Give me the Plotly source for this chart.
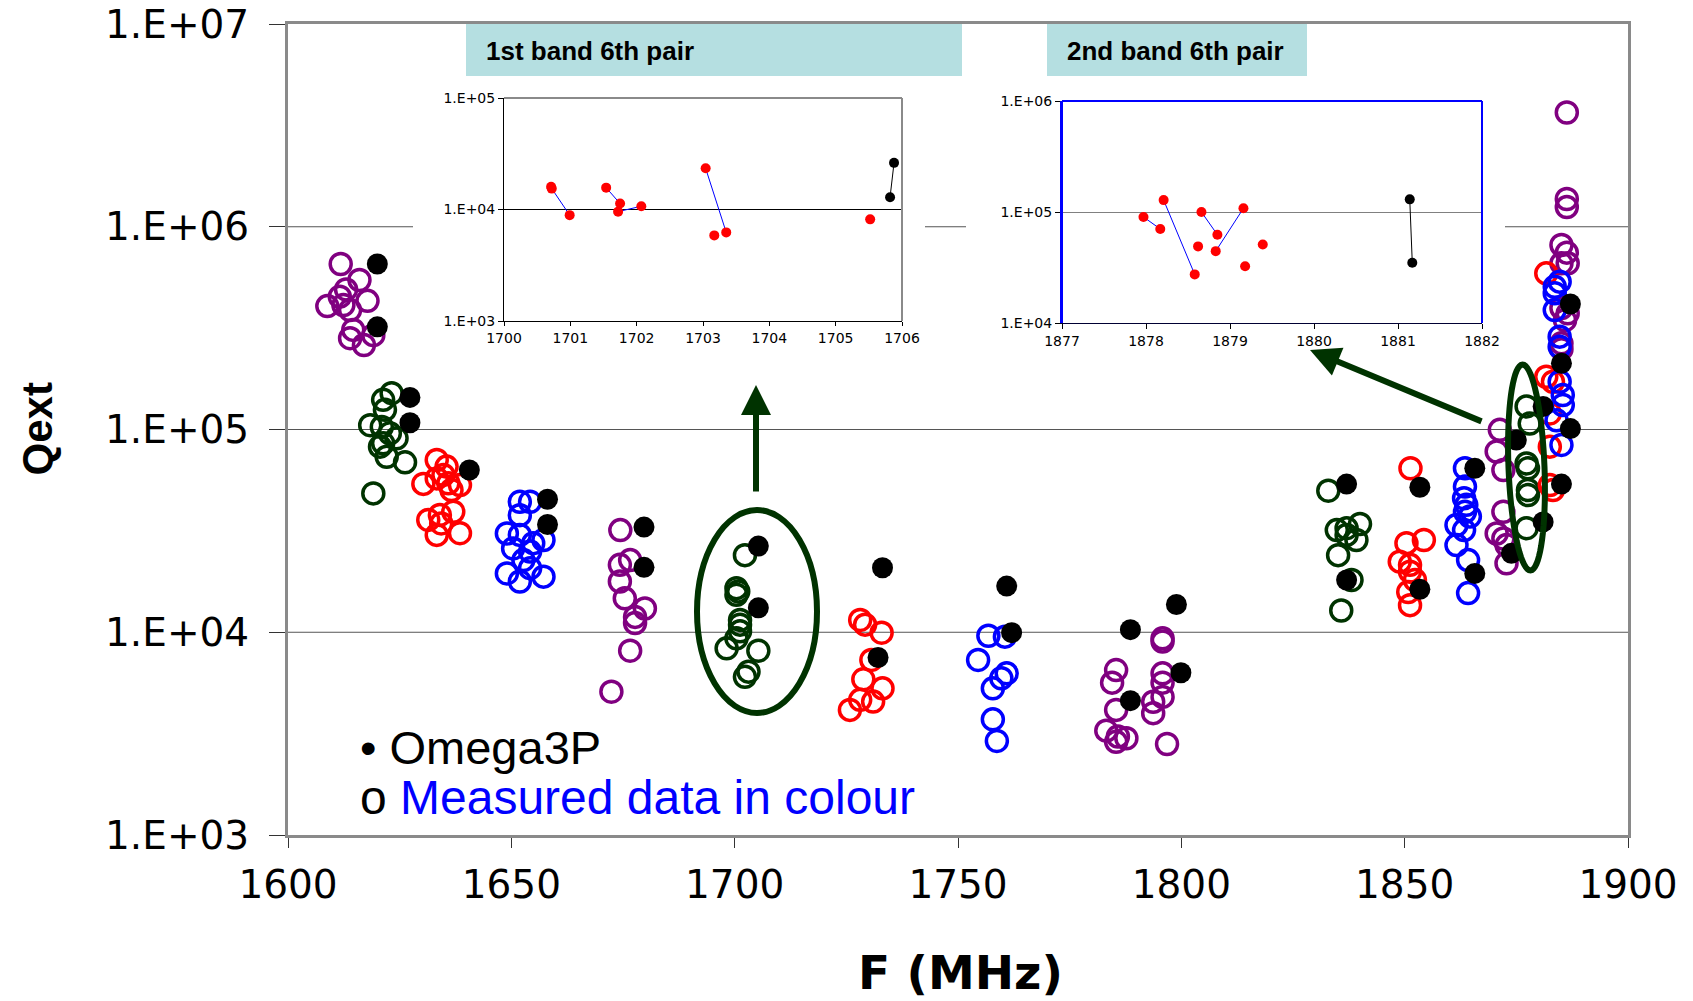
import numpy as np
import plotly.graph_objects as go

# ---------------- data ----------------
purple_f = [1611.8, 1616.0, 1613.0, 1611.6, 1608.8, 1617.8, 1613.9, 1612.4, 1614.6, 1619.1, 1613.9, 1617.0,
            1674.4, 1676.6, 1674.3, 1674.3, 1675.4, 1679.9, 1677.7, 1677.7, 1676.6, 1672.4,
            1795.8, 1795.8, 1785.4, 1784.5, 1795.8, 1795.8, 1795.8, 1793.7, 1793.7, 1785.4, 1783.2, 1785.8, 1787.7, 1785.4, 1796.8,
            1871.3, 1870.6, 1872.1, 1872.1, 1870.6, 1872.1, 1872.8, 1872.8,
            1886.3, 1886.3, 1886.3, 1885.1, 1886.3, 1885.1, 1886.5, 1885.1, 1885.9, 1886.5, 1885.1, 1885.1]
purple_q = [655000, 546000, 491000, 452000, 406000, 431000, 388000, 411000, 310000, 292000, 282000, 261000,
            31900, 22700, 21500, 17800, 14700, 13100, 11900, 11100, 8110, 5090,
            9330, 9000, 6510, 5640, 6270, 5640, 4800, 4540, 3990, 4140, 3270, 3060, 3000, 2880, 2810,
            99600, 77900, 63100, 39300, 30700, 29000, 26900, 21900,
            3660000, 1370000, 1250000, 813000, 745000, 660000, 660000, 397000, 346000, 374000, 266000, 249000]

green_f = [1623.2, 1621.3, 1621.7, 1618.4, 1621.0, 1622.8, 1624.3, 1621.3, 1620.6, 1622.1, 1626.2, 1619.1,
           1702.3, 1700.4, 1700.8, 1700.4, 1701.2, 1701.2, 1701.2, 1700.4, 1698.2, 1705.3, 1703.1, 1702.3,
           1832.9, 1834.8, 1837.0, 1840.0, 1839.2, 1837.0, 1835.1, 1838.1, 1835.8,
           1877.3, 1878.0, 1877.3, 1877.6, 1877.6, 1877.6, 1877.3]
green_q = [151000, 140000, 125000, 105000, 103000, 95800, 90500, 85500, 82300, 73400, 68900, 48400,
           24000, 16500, 15900, 15300, 11500, 10900, 10100, 9330, 8330, 8110, 6390, 6030,
           49900, 31900, 32600, 34200, 28500, 30200, 24000, 18100, 12800,
           130000, 107000, 68000, 64400, 50300, 47500, 32600]

red_f = [1633.3, 1635.5, 1634.8, 1630.3, 1633.3, 1635.9, 1638.5, 1636.6, 1631.4, 1634.0, 1637.0, 1633.3, 1638.5, 1634.3,
         1728.1, 1729.2, 1732.9, 1730.6, 1728.8, 1733.1, 1728.1, 1731.0, 1725.8,
         1851.3, 1850.4, 1854.3, 1848.9, 1851.2, 1851.2, 1852.3, 1850.8, 1851.2,
         1881.7, 1881.7, 1883.2, 1882.5, 1882.5, 1882.5, 1883.2]
red_q = [70700, 65600, 59700, 53900, 57400, 54300, 53200, 50300, 35800, 37900, 39300, 30200, 30800, 34400,
         11500, 10900, 9950, 7300, 5860, 5290, 4640, 4550, 4140,
         64400, 27500, 28500, 22300, 21500, 19900, 18100, 15800, 13600,
         589000, 182000, 172000, 120000, 82300, 53200, 50300]

blue_f = [1651.9, 1654.2, 1651.9, 1649.0, 1651.9, 1654.9, 1657.2, 1650.4, 1654.2, 1652.7, 1654.2, 1649.0, 1651.9, 1657.2,
          1756.8, 1760.5, 1754.5, 1760.9, 1759.7, 1757.8, 1757.8, 1758.7,
          1863.5, 1863.5, 1863.3, 1863.8, 1863.5, 1864.6, 1861.6, 1863.3, 1861.6, 1864.2, 1864.2,
          1884.7, 1883.6, 1883.6, 1883.6, 1884.7, 1884.7, 1884.7, 1885.4, 1885.4, 1884.0, 1885.1]
blue_q = [44000, 44000, 37800, 30700, 30200, 27500, 28500, 25900, 25000, 22700, 20700, 19500, 17800, 18800,
          9610, 9510, 7300, 6270, 5930, 5290, 3720, 2910,
          64400, 52300, 45800, 42500, 39300, 37200, 33800, 31900, 26900, 22700, 15600,
          536000, 506000, 470000, 388000, 287000, 256000, 172000, 148000, 132000, 111000, 83900]

omega_f = [1620.0, 1620.0, 1627.3, 1627.3, 1640.6, 1658.1, 1658.1, 1679.7, 1679.7, 1705.3, 1705.3,
           1733.1, 1732.1, 1760.9, 1762.0, 1788.6, 1798.9, 1799.9, 1788.6, 1837.0, 1837.0,
           1853.4, 1853.4, 1865.7, 1865.7, 1875.0, 1873.9, 1881.0, 1881.0, 1887.1, 1885.1, 1887.1, 1885.1]
omega_q = [655000, 321000, 144000, 108000, 63100, 45300, 34000, 33000, 20900, 26600, 13200,
           20800, 7510, 16900, 9950, 10300, 13700, 6310, 4600, 53800, 18100,
           51900, 16300, 64400, 19500, 88700, 24500, 130000, 35000, 416000, 212000, 101000, 53800]

# inset 1: 1st band 6th pair
in1_meas_f = [1700.71, 1700.72, 1700.99, 1701.54, 1701.75, 1701.72, 1702.07, 1703.04, 1703.17, 1703.35, 1705.52]
in1_meas_q = [16000, 15400, 8900, 15700, 11300, 9570, 10700, 23400, 5860, 6230, 8160]
in1_pairs = [(1, 2), (3, 4), (5, 6), (7, 9)]
in1_omega_f = [1705.88, 1705.82]
in1_omega_q = [26200, 12900]

# inset 2: 2nd band 6th pair
in2_meas_f = [1877.97, 1878.17, 1878.21, 1878.58, 1878.66, 1878.85, 1878.62, 1878.83, 1879.16, 1879.18, 1879.39]
in2_meas_q = [90200, 70300, 128000, 27400, 100000, 62400, 49000, 44400, 108000, 32400, 51000]
in2_pairs = [(0, 1), (2, 3), (4, 5), (7, 8)]
in2_omega_f = [1881.14, 1881.17]
in2_omega_q = [130000, 34900]

main_x_range = [1600, 1900]
main_ylog_range = [3, 7]
main_yticks = [1e3, 1e4, 1e5, 1e6, 1e7]
main_yticktext = ["1.E+03", "1.E+04", "1.E+05", "1.E+06", "1.E+07"]
in1_x_range = [1700, 1706]
in1_ylog_range = [3, 5]
in1_yticks = [1e3, 1e4, 1e5]
in1_yticktext = ["1.E+03", "1.E+04", "1.E+05"]
in2_x_range = [1877, 1882]
in2_ylog_range = [4, 6]
in2_yticks = [1e4, 1e5, 1e6]
in2_yticktext = ["1.E+04", "1.E+05", "1.E+06"]

# ---------------- layout geometry ----------------
W, H = 1693, 1001
ML, MT, MR, MB = 288, 24, 65, 166
PW, PH = W - ML - MR, H - MT - MB


def px(x):
    return (x - ML) / PW


def py(y):
    return 1 - (y - MT) / PH


DKGREEN = "#003300"
PURPLE = "#800080"
FONT = "Liberation Sans, Arial, sans-serif"
WIDEFONT = "DejaVu Sans, sans-serif"

fig = go.Figure()


def open_trace(f, q, color):
    return go.Scatter(x=f, y=q, mode="markers", xaxis="x", yaxis="y", hoverinfo="skip",
                      marker=dict(symbol="circle-open", size=21, color=color, line=dict(width=3.5, color=color)))


fig.add_trace(open_trace(purple_f, purple_q, PURPLE))
fig.add_trace(open_trace(green_f, green_q, DKGREEN))
fig.add_trace(open_trace(red_f, red_q, "#ff0000"))
fig.add_trace(open_trace(blue_f, blue_q, "#0000ff"))
fig.add_trace(go.Scatter(x=omega_f, y=omega_q, mode="markers", xaxis="x", yaxis="y", hoverinfo="skip",
                         marker=dict(symbol="circle", size=21, color="black")))


def pair_lines(xs, ys, pairs):
    lx, ly = [], []
    for i, j in pairs:
        lx += [xs[i], xs[j], None]
        ly += [ys[i], ys[j], None]
    return lx, ly


for (mf, mq, pairs, of, oq, xa, ya) in [
        (in1_meas_f, in1_meas_q, in1_pairs, in1_omega_f, in1_omega_q, "x2", "y2"),
        (in2_meas_f, in2_meas_q, in2_pairs, in2_omega_f, in2_omega_q, "x3", "y3")]:
    lx, ly = pair_lines(mf, mq, pairs)
    fig.add_trace(go.Scatter(x=lx, y=ly, mode="lines", xaxis=xa, yaxis=ya, hoverinfo="skip",
                             line=dict(color="#0000ff", width=1)))
    fig.add_trace(go.Scatter(x=of, y=oq, mode="lines+markers", xaxis=xa, yaxis=ya, hoverinfo="skip",
                             line=dict(color="black", width=1), marker=dict(size=10, color="black")))
    fig.add_trace(go.Scatter(x=mf, y=mq, mode="markers", xaxis=xa, yaxis=ya, hoverinfo="skip",
                             marker=dict(size=10, color="#ff0000")))

shapes = []
# main gridlines (drawn as shapes so the inset panels can hide them)
for v in [1e4, 1e5, 1e6]:
    yv = (np.log10(v) - main_ylog_range[0]) / (main_ylog_range[1] - main_ylog_range[0])
    shapes.append(dict(type="line", xref="paper", yref="paper", x0=0, x1=1, y0=yv, y1=yv,
                       line=dict(color="#555555", width=1), layer="below"))
# inset white backgrounds
for (x0, x1) in [(413, 925), (966, 1505)]:
    shapes.append(dict(type="rect", xref="paper", yref="paper", x0=px(x0), x1=px(x1), y0=py(345), y1=py(76),
                       fillcolor="white", line=dict(width=0), layer="below"))
# inset title boxes
for (x0, x1) in [(466, 962), (1047, 1307)]:
    shapes.append(dict(type="rect", xref="paper", yref="paper", x0=px(x0), x1=px(x1), y0=py(76), y1=py(MT),
                       fillcolor="#b5dfe1", line=dict(width=0), layer="below"))

# inset frame lines (top/right)
in1_dom_x = [px(504), px(902)]
in1_dom_y = [py(321), py(98)]
in2_dom_x = [px(1062), px(1482)]
in2_dom_y = [py(323), py(101)]
for dx, dy, col, w in [(in1_dom_x, in1_dom_y, "#8a8a8a", 2), (in2_dom_x, in2_dom_y, "#0000ff", 2)]:
    shapes.append(dict(type="line", xref="paper", yref="paper", x0=dx[0], x1=dx[1], y0=dy[1], y1=dy[1],
                       line=dict(color=col, width=w), layer="above"))
    shapes.append(dict(type="line", xref="paper", yref="paper", x0=dx[1], x1=dx[1], y0=dy[0], y1=dy[1],
                       line=dict(color=col, width=w), layer="above"))
shapes.append(dict(type="line", xref="paper", yref="paper", x0=in2_dom_x[0], x1=in2_dom_x[0],
                   y0=in2_dom_y[0], y1=in2_dom_y[1], line=dict(color="#0000ff", width=2), layer="above"))

# highlight ellipses
shapes.append(dict(type="circle", xref="paper", yref="paper", x0=px(697), x1=px(817), y0=py(713), y1=py(510),
                   line=dict(color=DKGREEN, width=6), layer="above"))
cx, cy, a, b = 1526.5, 467.5, 18, 103
phi = np.arctan2(8, 205)
t = np.linspace(0, 2 * np.pi, 73)
ex = cx + b * np.sin(t) * np.sin(phi) + a * np.cos(t) * np.cos(phi)
ey = cy + b * np.sin(t) * np.cos(phi) - a * np.cos(t) * np.sin(phi)
path = "M " + " L ".join(f"{px(u):.5f},{py(v):.5f}" for u, v in zip(ex, ey)) + " Z"
shapes.append(dict(type="path", xref="paper", yref="paper", path=path,
                   line=dict(color=DKGREEN, width=6), layer="above"))

annotations = [
    dict(xref="paper", yref="paper", x=px(484), y=py(51), xanchor="left", yanchor="middle", showarrow=False,
         text="<b>1st band 6th pair</b>", font=dict(family=FONT, size=26, color="black")),
    dict(xref="paper", yref="paper", x=px(1065), y=py(51), xanchor="left", yanchor="middle", showarrow=False,
         text="<b>2nd band 6th pair</b>", font=dict(family=FONT, size=26, color="black")),
    dict(xref="paper", yref="paper", x=px(756), y=py(385), ax=0, ay=108, axref="pixel", ayref="pixel",
         text="", showarrow=True, arrowhead=2, arrowsize=1, arrowwidth=6, arrowcolor=DKGREEN, standoff=0),
    dict(xref="paper", yref="paper", x=px(1310), y=py(350), ax=173, ay=72, axref="pixel", ayref="pixel",
         text="", showarrow=True, arrowhead=2, arrowsize=1, arrowwidth=6, arrowcolor=DKGREEN, standoff=0),
    dict(xref="paper", yref="paper", x=px(358), y=py(747), xanchor="left", yanchor="middle", showarrow=False,
         text="• Omega3P", font=dict(family=FONT, size=47, color="black")),
    dict(xref="paper", yref="paper", x=px(358), y=py(797), xanchor="left", yanchor="middle", showarrow=False,
         text="o <span style='color:#0000ff'>Measured data in colour</span>",
         font=dict(family=FONT, size=48, color="black")),
    dict(xref="paper", yref="paper", x=px(37), y=0.5, xanchor="center", yanchor="middle", showarrow=False,
         text="<b>Qext</b>", textangle=-90, font=dict(family=FONT, size=42, color="black")),
    dict(xref="paper", yref="paper", x=px(960), y=py(972), xanchor="center", yanchor="middle", showarrow=False,
         text="<b>F (MHz)</b>", font=dict(family=WIDEFONT, size=47, color="black")),
]

inset_tick_font = dict(family=WIDEFONT, size=14, color="black")

fig.update_layout(
    width=W, height=H,
    margin=dict(l=ML, r=MR, t=MT, b=MB, autoexpand=False),
    paper_bgcolor="white", plot_bgcolor="white",
    showlegend=False,
    shapes=shapes,
    annotations=annotations,
    xaxis=dict(range=main_x_range, dtick=50, tick0=1600, showgrid=False, zeroline=False, automargin=False,
               showline=True, linecolor="#8a8a8a", linewidth=3, mirror=True,
               ticks="outside", ticklen=10, tickcolor="#333333", tickwidth=1,
               ticklabelstandoff=3,
               tickfont=dict(family=WIDEFONT, size=39, color="black"), domain=[0, 1], anchor="y"),
    yaxis=dict(type="log", range=main_ylog_range, tickvals=main_yticks, ticktext=main_yticktext,
               showgrid=False, zeroline=False, automargin=False,
               showline=True, linecolor="#8a8a8a", linewidth=3, mirror=True,
               ticks="outside", ticklen=16, tickcolor="#333333", tickwidth=1, ticklabelstandoff=12,
               tickfont=dict(family=WIDEFONT, size=39, color="black"), domain=[0, 1], anchor="x"),
    xaxis2=dict(range=in1_x_range, dtick=1, domain=in1_dom_x, anchor="y2", showgrid=False, zeroline=False,
                automargin=False,
                showline=True, linecolor="black", linewidth=1, ticks="outside", ticklen=4, tickcolor="black",
                ticklabelstandoff=0, tickfont=inset_tick_font),
    yaxis2=dict(type="log", range=in1_ylog_range, tickvals=in1_yticks, ticktext=in1_yticktext,
                domain=in1_dom_y, anchor="x2", showgrid=True, gridcolor="black", gridwidth=1, zeroline=False,
                automargin=False,
                showline=True, linecolor="black", linewidth=1, ticks="outside", ticklen=5, tickcolor="black",
                tickfont=inset_tick_font),
    xaxis3=dict(range=in2_x_range, dtick=1, domain=in2_dom_x, anchor="y3", showgrid=False, zeroline=False,
                automargin=False,
                showline=True, linecolor="#000033", linewidth=1, ticks="outside", ticklen=5, tickcolor="black",
                tickfont=inset_tick_font),
    yaxis3=dict(type="log", range=in2_ylog_range, tickvals=in2_yticks, ticktext=in2_yticktext,
                domain=in2_dom_y, anchor="x3", showgrid=True, gridcolor="#808080", gridwidth=1, zeroline=False,
                automargin=False,
                showline=True, linecolor="#0000ff", linewidth=2, ticks="outside", ticklen=5, tickcolor="black",
                tickfont=inset_tick_font),
)

fig.write_html("out.html")
